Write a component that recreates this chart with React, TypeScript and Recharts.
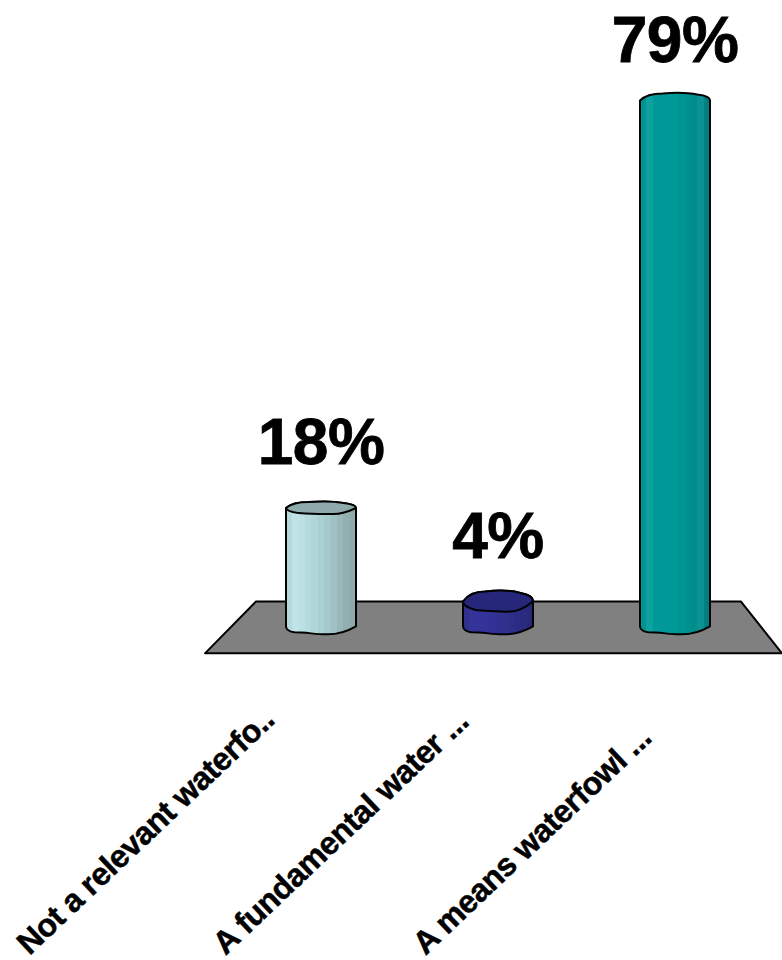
import { BarChart, Bar, XAxis, YAxis, LabelList, ReferenceArea } from "recharts";

const categories = ["Not a relevant waterfo..", "A fundamental water ...", "A means waterfowl ..."];
const percents = [18, 4, 79];

const sideColors = [
  ["#b4dadd", "#bfe3e7", "#bce0e4", "#b6dbdf", "#b1d6d9", "#abd0d2", "#a6c9cb", "#a0c0c2", "#9ab8ba", "#94afb1", "#90a9ab"],
  ["#30308f", "#333399", "#333399", "#333399", "#323296", "#313192", "#30308e", "#2e2e89", "#2c2c85", "#2a2a7f", "#29297b"],
  ["#009595", "#0fa0a0", "#009999", "#009999", "#009898", "#009797", "#009494", "#009090", "#008d8d", "#0c9292", "#008080"],
];
const topColors = ["#8faaac", "#26267a", ""];

const FONT = "'Liberation Sans', Arial, sans-serif";
const TOP_DEPTH = [6, 10, 7];
// where each rotated label starts, relative to its own tick
const LABEL_SHIFT = [-291, -272, -249];

const data = categories.map((name, i) => ({ name, percent: percents[i] }));

function Cylinder(props: any) {
  const { x, y, width: w, height, index } = props;
  const ry = TOP_DEPTH[index];
  const base = y + height;
  const colors = sideColors[index];
  const id = `side-${index}`;
  const back = `M${x},${y} C${x + 0.08 * w},${y - ry * 0.8} ${x + 0.2 * w},${y - ry} ${x + 0.32 * w},${y - ry} C${x + 0.5 * w},${y - ry * 1.15} ${x + 0.7 * w},${y - ry * 1.1} ${x + 0.82 * w},${y - ry * 0.85} C${x + 0.9 * w},${y - ry * 0.75} ${x + w},${y - ry * 0.55} ${x + w},${y}`;
  const front = `C${x + 0.9 * w},${y + ry * 0.55} ${x + 0.8 * w},${y + ry} ${x + 0.68 * w},${y + ry} C${x + 0.5 * w},${y + ry * 1.05} ${x + 0.3 * w},${y + ry * 0.9} ${x + 0.18 * w},${y + ry * 0.85} C${x + 0.1 * w},${y + ry * 0.7} ${x},${y + ry * 0.4} ${x},${y}`;
  const body = `${back} L${x + w},${base - 2} C${x + 0.9 * w},${base + 2} ${x + 0.75 * w},${base + 6} ${x + 0.6 * w},${base + 6} C${x + 0.45 * w},${base + 6.5} ${x + 0.3 * w},${base + 4} ${x + 0.12 * w},${base + 4} C${x + 0.05 * w},${base + 3.5} ${x},${base + 1} ${x},${base - 2} Z`;
  return (
    <g>
      <defs>
        <linearGradient id={id} x1="0" x2="1" y1="0" y2="0">
          {colors.flatMap((c, i) => [
            <stop key={`${i}a`} offset={i / colors.length} stopColor={c} />,
            <stop key={`${i}b`} offset={(i + 1) / colors.length} stopColor={c} />,
          ])}
        </linearGradient>
      </defs>
      <path d={body} fill={`url(#${id})`} stroke="#000" strokeWidth={2} strokeLinejoin="round" />
      {topColors[index] && (
        <path d={`${back} ${front} Z`} fill={topColors[index]} stroke="#000" strokeWidth={2} strokeLinejoin="round" />
      )}
    </g>
  );
}

// the reference area is inset by the axis padding, the floor runs past it
function Floor(props: any) {
  const { x, y, width, height } = props;
  const left = x - 27;
  const right = x + width + 19;
  const pts = [
    [left + 51, y],
    [right - 41, y],
    [right, y + height],
    [left, y + height],
  ];
  return <polygon points={pts.map((p) => p.join(",")).join(" ")} fill="#808080" stroke="#000" strokeWidth={2} strokeLinejoin="round" />;
}

function PercentLabel(props: any) {
  const { x, y, width, value } = props;
  return (
    <text
      x={x + width / 2}
      y={Math.max(y - 44, 62)}
      textAnchor="middle"
      fontFamily={FONT}
      fontWeight={700}
      fontSize={64}
      letterSpacing={-0.5}
      stroke="#000"
      strokeWidth={0.8}
      fill="#000"
    >
      {value}%
    </text>
  );
}

function SlantedTick(props: any) {
  const { x, index, payload } = props;
  const sx = x + LABEL_SHIFT[index];
  const sy = 956;
  return (
    <text
      x={sx}
      y={sy}
      transform={`rotate(-43.5 ${sx} ${sy})`}
      fontFamily={FONT}
      fontWeight={700}
      fontSize={32}
      letterSpacing={-0.5}
      stroke="#000"
      strokeWidth={0.5}
      fill="#000"
    >
      {payload.value}
    </text>
  );
}

export default function App() {
  return (
    <div style={{ position: "absolute", left: 0, top: 0, width: 782, height: 960, background: "#fff" }}>
      <BarChart width={782} height={960} data={data} margin={{ top: 27, right: 0, bottom: 0, left: 205 }} barSize={70}>
        <XAxis
          dataKey="name"
          axisLine={false}
          tickLine={false}
          interval={0}
          height={305}
          padding={{ left: 27, right: 19 }}
          tick={<SlantedTick />}
        />
        <YAxis hide domain={[-4, 90]} />
        <ReferenceArea y1={-3.75} y2={4} ifOverflow="visible" shape={<Floor />} />
        <Bar dataKey="percent" shape={<Cylinder />} isAnimationActive={false}>
          <LabelList dataKey="percent" content={<PercentLabel />} />
        </Bar>
      </BarChart>
    </div>
  );
}
